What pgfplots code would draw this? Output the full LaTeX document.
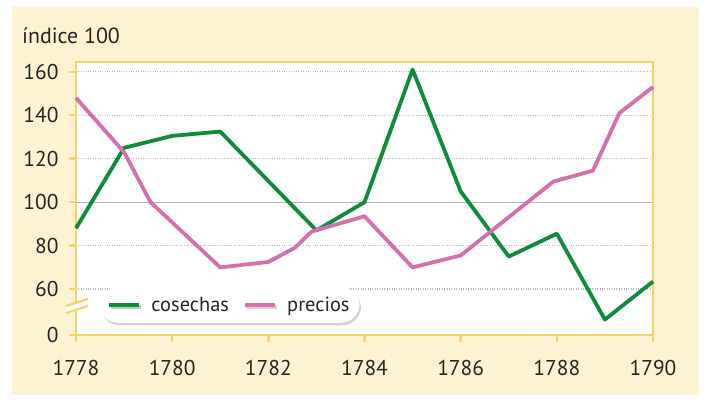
\documentclass[border=0pt]{standalone}
\usepackage{pgfplots}
\pgfplotsset{compat=1.18}
\usepackage{fontspec}
\setmainfont{PT Sans}
\usetikzlibrary{shadows}
\definecolor{bgyel}{HTML}{FDF3D2}
\definecolor{bordyel}{HTML}{F5D36A}
\definecolor{cgreen}{HTML}{0E8C3C}
\definecolor{cpink}{HTML}{D470AC}
\definecolor{gridgray}{HTML}{B8B8B8}
\begin{document}
\begin{tikzpicture}
\path (0bp,0bp) rectangle (709bp,400bp);
\fill[bgyel] (12bp,5bp) rectangle (699bp,393bp);
\node[anchor=base west, inner sep=0pt, font=\fontsize{22}{26}\selectfont, text=black!85] at (22bp,356bp) {índice 100};
\begin{axis}[
  at={(76bp,65bp)}, anchor=south west,
  scale only axis, width=577bp, height=273bp,
  xmin=1778, xmax=1790, ymin=38.9, ymax=164.5,
  xtick={1778,1780,...,1790},
  ytick={38.9,60,80,120,140,160},
  yticklabels={0,60,80,120,140,160},
  extra y ticks={100},
  extra y tick labels={100},
  extra y tick style={grid=major, major grid style={solid, gridgray, line width=1.2bp}},
  /pgf/number format/assume math mode=true,
  xticklabel={\pgfmathprintnumber[1000 sep={}]{\tick}},
  ticklabel style={font=\fontsize{21.5}{24}\selectfont, text=black!85},
  yticklabel style={xshift=-7bp},
  xticklabel style={yshift=-15bp},
  tick pos=left,
  tick align=outside,
  major tick length=7bp,
  tick style={bordyel, line width=2.5bp},
  axis line style={bordyel, line width=2.5bp},
  axis background/.style={fill=white},
  ymajorgrids,
  major grid style={gridgray, dotted, line width=1.3bp},
  legend columns=2,
  legend style={at={(rel axis cs:0.04,0.044)}, anchor=south west,
    draw=none, fill=white, rounded corners=19bp,
    drop shadow={shadow xshift=1.5bp, shadow yshift=-2.5bp, opacity=0.35},
    font=\fontsize{20.5}{24}\selectfont, text=black!85,
    inner xsep=8bp, inner ysep=8bp,
    /tikz/every odd column/.append style={column sep=8bp},
    /tikz/every even column/.append style={column sep=12bp}},
  legend image code/.code={\draw[#1, line width=4.2bp] (0bp,0bp) -- (30bp,0bp);},
  clip=false,
]
\addplot[cgreen, line width=3.8bp, line join=round] coordinates {
 (1778,88) (1779,125) (1780,130.5) (1781,132.5) (1783,87) (1784,100)
 (1785,161) (1786,105) (1787,75) (1788,85.5) (1789,46) (1790,63.5)};
\addlegendentry{cosechas}
\addplot[cpink, line width=3.8bp, line join=round] coordinates {
 (1778,148) (1779,123) (1779.55,100) (1781,70) (1782,72.5) (1782.55,79)
 (1782.9,86.5) (1784,93.5) (1785,70) (1786,75.5) (1787.93,109.5)
 (1788.75,114.5) (1789.3,141) (1790,153)};
\addlegendentry{precios}
\end{axis}
% axis break marks on the y axis
\fill[white] (66bp,93bp) -- (88bp,100bp) -- (88bp,95bp) -- (66bp,88bp) -- cycle;
\draw[bordyel, line width=2.2bp] (66bp,94bp) -- (88bp,101bp);
\draw[bordyel, line width=2.2bp] (66bp,87bp) -- (88bp,94bp);
\end{tikzpicture}
\end{document}
